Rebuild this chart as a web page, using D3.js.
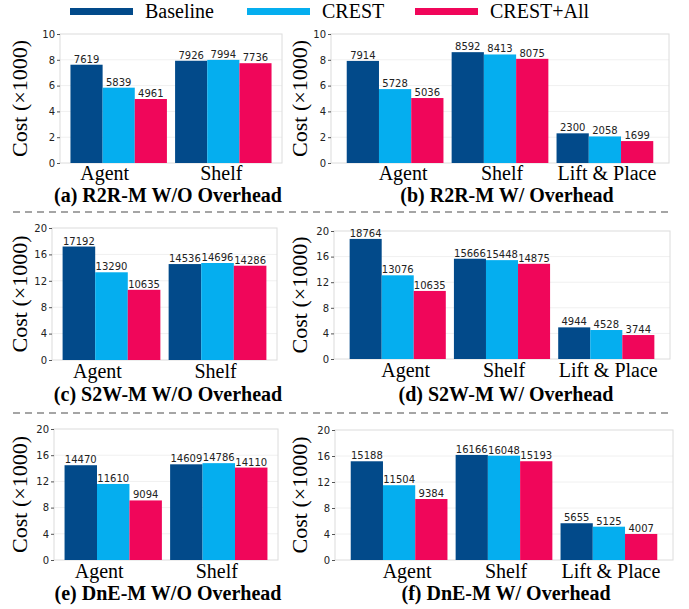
<!DOCTYPE html>
<html>
<head>
<meta charset="utf-8">
<script src="https://cdn.jsdelivr.net/npm/d3@7"></script>
<style>
  body { margin: 0; background: #fff; }
  .tick text { font-family: "DejaVu Sans", sans-serif; font-size: 10px; fill: #222; }
  .tick line { stroke: #555; }
  .val { font-family: "DejaVu Sans", sans-serif; font-size: 10px; fill: #222; }
  .cat, .title, .ylab, .leg { font-family: "Times New Roman", "Liberation Serif", Times, "DejaVu Serif", serif; fill: #000; }
  .cat { font-size: 20px; }
  .title { font-size: 20px; font-weight: bold; }
  .ylab { font-size: 22px; }
  .leg { font-size: 20px; }
</style>
</head>
<body>
<svg id="chart"></svg>
<script>
var series = ["Baseline", "CREST", "CREST+All"];
var colors = ["#024a8a", "#05aeef", "#f0065a"];

var cats2 = ["Agent", "Shelf"];
var cats3 = ["Agent", "Shelf", "Lift & Place"];

// values per category, in series order
var r2rNo = [[7619, 5839, 4961], [7926, 7994, 7736]];
var r2rW = [[7914, 5728, 5036], [8592, 8413, 8075], [2300, 2058, 1699]];
var s2wNo = [[17192, 13290, 10635], [14536, 14696, 14286]];
var s2wW = [[18764, 13076, 10635], [15666, 15448, 14875], [4944, 4528, 3744]];
var dneNo = [[14470, 11610, 9094], [14609, 14786, 14110]];
var dneW = [[15188, 11504, 9384], [16166, 16048, 15193], [5655, 5125, 4007]];

var ticks10 = [0, 2, 4, 6, 8, 10];
var ticks20 = [0, 4, 8, 12, 16, 20];

var titles = [
  "(a) R2R-M W/O Overhead", "(b) R2R-M W/ Overhead",
  "(c) S2W-M W/O Overhead", "(d) S2W-M W/ Overhead",
  "(e) DnE-M W/O Overhead", "(f) DnE-M W/ Overhead"
];

var w = 689, h = 609;
var svg = d3.select("#chart").attr("width", w).attr("height", h);

// panel boxes
var panels = [
  {cats: cats2, data: r2rNo, ticks: ticks10, x0: 60, x1: 282, y0: 34, y1: 163, catY: 180, titleY: 202, tx: 168, ylx: 27},
  {cats: cats3, data: r2rW, ticks: ticks10, x0: 331, x1: 669, y0: 34, y1: 163, catY: 180, titleY: 202, tx: 507, ylx: 307},
  {cats: cats2, data: s2wNo, ticks: ticks20, x0: 52, x1: 277, y0: 228, y1: 360, catY: 378, titleY: 401, tx: 168, ylx: 27},
  {cats: cats3, data: s2wW, ticks: ticks20, x0: 334, x1: 670, y0: 231, y1: 359, catY: 377, titleY: 401, tx: 506, ylx: 307},
  {cats: cats2, data: dneNo, ticks: ticks20, x0: 54, x1: 278, y0: 429, y1: 560, catY: 578, titleY: 600, tx: 168, ylx: 27},
  {cats: cats3, data: dneW, ticks: ticks20, x0: 335, x1: 673, y0: 430, y1: 560, catY: 578, titleY: 600, tx: 506, ylx: 307}
];

// the category labels are not quite centred under the groups in the original
var shift2 = [-14, -2];
var shift3 = [8, 2, 2];

panels.forEach(function(p, i) {
  var g = svg.append("g");
  var xScale = d3.scaleBand()
    .domain(p.cats)
    .range([p.x0, p.x1])
    .paddingInner(0.078)
    .paddingOuter(p.cats.length == 2 ? 0.1 : 0.15);
  var xSub = d3.scaleBand().domain(series).range([0, xScale.bandwidth()]);
  var yScale = d3.scaleLinear()
    .domain([0, d3.max(p.ticks)])
    .range([p.y1, p.y0]);

  // grid
  g.selectAll(".grid")
    .data(p.ticks.slice(1, -1))
    .enter()
    .append("line")
    .attr("x1", p.x0).attr("x2", p.x1)
    .attr("y1", function(d) { return yScale(d); })
    .attr("y2", function(d) { return yScale(d); })
    .attr("stroke", "#f0f0f0");

  g.append("rect")
    .attr("x", p.x0).attr("y", p.y0)
    .attr("width", p.x1 - p.x0).attr("height", p.y1 - p.y0)
    .attr("fill", "none")
    .attr("stroke", "#dcdcdc");

  var yAxis = d3.axisLeft(yScale).tickValues(p.ticks).tickSize(3).tickPadding(2);
  var ax = g.append("g")
    .attr("transform", "translate(" + p.x0 + ",0)")
    .call(yAxis);
  ax.select(".domain").remove();

  var groups = g.selectAll(".grp")
    .data(p.data)
    .enter()
    .append("g")
    .attr("transform", function(d, j) {
      return "translate(" + xScale(p.cats[j]) + ",0)";
    });

  groups.selectAll("rect")
    .data(function(d) { return d; })
    .enter()
    .append("rect")
    .attr("x", function(d, k) { return xSub(series[k]); })
    .attr("y", function(d) { return yScale(d / 1000); })
    .attr("width", xSub.bandwidth())
    .attr("height", function(d) { return p.y1 - yScale(d / 1000); })
    .attr("fill", function(d, k) { return colors[k]; });

  groups.selectAll(".val")
    .data(function(d) { return d; })
    .enter()
    .append("text")
    .attr("class", "val")
    .attr("text-anchor", "middle")
    .attr("x", function(d, k) { return xSub(series[k]) + xSub.bandwidth() / 2; })
    .attr("y", function(d) { return yScale(d / 1000) - 2; })
    .text(function(d) { return d; });

  var shift = p.cats.length == 2 ? shift2 : shift3;
  g.selectAll(".cat")
    .data(p.cats)
    .enter()
    .append("text")
    .attr("class", "cat")
    .attr("text-anchor", "middle")
    .attr("x", function(d, j) { return xScale(d) + xScale.bandwidth() / 2 + shift[j]; })
    .attr("y", p.catY)
    .text(function(d) { return d; });

  g.append("text")
    .attr("class", "title")
    .attr("text-anchor", "middle")
    .attr("x", p.tx)
    .attr("y", p.titleY)
    .text(titles[i]);

  g.append("text")
    .attr("class", "ylab")
    .attr("text-anchor", "middle")
    .attr("transform", "translate(" + p.ylx + "," + ((p.y0 + p.y1) / 2) + ") rotate(-90)")
    .text("Cost (\u00d71000)");
});

// dashed separators between rows
[212, 413].forEach(function(y) {
  svg.append("line")
    .attr("x1", 13).attr("x2", 668)
    .attr("y1", y).attr("y2", y)
    .attr("stroke", "#888")
    .attr("stroke-width", 1.5)
    .attr("stroke-dasharray", "7,5");
});

// legend
var legX = [70, 247, 415];
var leg = svg.selectAll(".legitem")
  .data(series)
  .enter()
  .append("g")
  .attr("transform", function(d, i) { return "translate(" + legX[i] + ",0)"; });
leg.append("rect")
  .attr("y", 8).attr("width", 63).attr("height", 7)
  .attr("fill", function(d, i) { return colors[i]; });
leg.append("text")
  .attr("class", "leg")
  .attr("x", 75)
  .attr("y", 18)
  .text(function(d) { return d; });
</script>
</body>
</html>
